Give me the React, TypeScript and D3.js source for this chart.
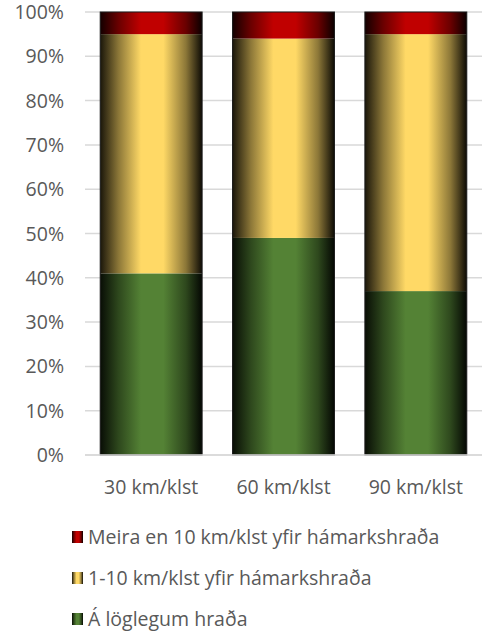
import React, { useEffect, useRef } from "react";
import * as d3 from "d3";

const categories = ["30 km/klst", "60 km/klst", "90 km/klst"];
const seriesNames = [
  "Á löglegum hraða",
  "1-10 km/klst yfir hámarkshraða",
  "Meira en 10 km/klst yfir hámarkshraða",
];
const legal = [41, 49, 37];
const over1to10 = [54, 45, 58];
const over10 = [5, 6, 5];
const seriesColors = ["#548235", "#FFD966", "#C00000"];
const yTicks = [0, 10, 20, 30, 40, 50, 60, 70, 80, 90, 100];

const App = () => {
  const svgRef = useRef<SVGSVGElement>(null);

  useEffect(() => {
    const width = 486;
    const height = 632;
    const margin = { top: 12, left: 85, right: 4, bottom: 177 };
    const font = "Open Sans, sans-serif";
    const fontSize = 19.5;
    const textColor = "#595959";

    const svg = d3.select(svgRef.current).attr("width", width).attr("height", height);
    svg.selectAll("*").remove();

    const rows = categories.map((c, i) => ({
      cat: c,
      s0: legal[i],
      s1: over1to10[i],
      s2: over10[i],
    }));
    const stack = d3.stack<any>().keys(["s0", "s1", "s2"]);
    const series = stack(rows);

    const x = d3
      .scaleBand()
      .domain(categories)
      .range([margin.left, width - margin.right])
      .paddingInner(0.23)
      .paddingOuter(0.115);
    const y = d3
      .scaleLinear()
      .domain([0, 100])
      .range([height - margin.bottom, margin.top]);

    const defs = svg.append("defs");
    seriesColors.forEach((c, i) => {
      const g = defs
        .append("linearGradient")
        .attr("id", `grad${i}`)
        .attr("x1", "0%")
        .attr("x2", "100%")
        .attr("y1", "0%")
        .attr("y2", "0%");
      const dark = d3.interpolateRgb("#000000", c);
      g.append("stop").attr("offset", "0%").attr("stop-color", dark(0.1));
      g.append("stop").attr("offset", "18%").attr("stop-color", dark(0.55));
      g.append("stop").attr("offset", "40%").attr("stop-color", c);
      g.append("stop").attr("offset", "62%").attr("stop-color", c);
      g.append("stop").attr("offset", "84%").attr("stop-color", dark(0.55));
      g.append("stop").attr("offset", "100%").attr("stop-color", dark(0.05));
    });

    // gridlines
    svg
      .append("g")
      .selectAll("line")
      .data(yTicks)
      .join("line")
      .attr("x1", margin.left)
      .attr("x2", width - margin.right)
      .attr("y1", (d) => y(d))
      .attr("y2", (d) => y(d))
      .attr("stroke", "#d9d9d9")
      .attr("stroke-width", 1.5);

    svg
      .append("g")
      .attr("font-family", font)
      .attr("font-size", fontSize)
      .attr("fill", textColor)
      .attr("text-anchor", "end")
      .selectAll("text")
      .data(yTicks)
      .join("text")
      .attr("x", 64)
      .attr("y", (d) => y(d) + 7)
      .text((d) => `${d}%`);

    svg
      .append("g")
      .selectAll("g")
      .data(series)
      .join("g")
      .attr("fill", (d, i) => `url(#grad${i})`)
      .selectAll("rect")
      .data((d) => d)
      .join("rect")
      .attr("x", (d: any) => x(d.data.cat)!)
      .attr("width", x.bandwidth())
      .attr("y", (d) => y(d[1]))
      .attr("height", (d) => y(d[0]) - y(d[1]));

    // bar outlines
    svg
      .append("g")
      .selectAll("rect")
      .data(categories)
      .join("rect")
      .attr("x", (d) => x(d)!)
      .attr("width", x.bandwidth())
      .attr("y", y(100))
      .attr("height", y(0) - y(100))
      .attr("fill", "none")
      .attr("stroke", "#1a1a1a")
      .attr("stroke-width", 1);

    // baseline
    svg
      .append("line")
      .attr("x1", margin.left)
      .attr("x2", width - margin.right)
      .attr("y1", y(0))
      .attr("y2", y(0))
      .attr("stroke", "#d9d9d9")
      .attr("stroke-width", 1.5);

    svg
      .append("g")
      .attr("font-family", font)
      .attr("font-size", fontSize)
      .attr("fill", textColor)
      .attr("text-anchor", "middle")
      .selectAll("text")
      .data(categories)
      .join("text")
      .attr("x", (d) => x(d)! + x.bandwidth() / 2)
      .attr("y", 494)
      .text((d) => d);

    const legendOrder = [2, 1, 0];
    const legend = svg
      .append("g")
      .selectAll("g")
      .data(legendOrder)
      .join("g")
      .attr("transform", (d, i) => `translate(72, ${531 + i * 41})`);
    legend
      .append("rect")
      .attr("width", 11)
      .attr("height", 12)
      .attr("fill", (d) => `url(#grad${d})`);
    legend
      .append("text")
      .attr("x", 16)
      .attr("y", 13)
      .attr("font-family", font)
      .attr("font-size", fontSize)
      .attr("fill", textColor)
      .text((d) => seriesNames[d]);
  }, []);

  return (
    <div style={{ position: "absolute", left: 0, top: 0, background: "#fff" }}>
      <svg ref={svgRef} style={{ display: "block" }} />
    </div>
  );
};

export default App;
